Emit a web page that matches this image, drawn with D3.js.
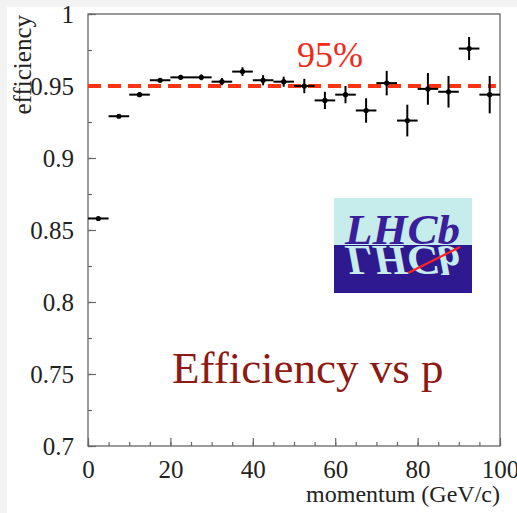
<!DOCTYPE html>
<html>
<head>
<meta charset="utf-8">
<script src="https://cdn.jsdelivr.net/npm/d3@7"></script>
<style>
  body { margin: 0; background: #f3f3f3; }
  svg, svg text { font-family: "Liberation Serif", "DejaVu Serif", serif; }
  svg { display: block; }
</style>
</head>
<body>
<div id="chart"></div>
<script>
// bin centres (GeV/c), each bin 5 GeV wide
var momentum = [2.5, 7.5, 12.5, 17.5, 22.5, 27.5, 32.5, 37.5, 42.5, 47.5,
                52.5, 57.5, 62.5, 67.5, 72.5, 77.5, 82.5, 87.5, 92.5, 97.5];
var efficiency = [0.858, 0.929, 0.944, 0.954, 0.956, 0.956, 0.953, 0.960, 0.954, 0.953,
                  0.950, 0.940, 0.944, 0.933, 0.952, 0.926, 0.948, 0.946, 0.976, 0.944];
var effError = [0.001, 0.001, 0.0015, 0.0015, 0.0015, 0.002, 0.0025, 0.003, 0.0035, 0.0035,
                0.005, 0.006, 0.006, 0.0085, 0.0085, 0.011, 0.011, 0.011, 0.008, 0.013];
var binHalf = 2.5;
var xTicks = [0, 20, 40, 60, 80, 100];
var yTicks = [0.7, 0.75, 0.8, 0.85, 0.9, 0.95, 1];
var reference = 0.95;

var W = 517, H = 513;
var margin = { top: 14, right: 17, bottom: 67, left: 88 };

var svg = d3.select("#chart").append("svg")
    .attr("width", W).attr("height", H);

svg.append("rect").attr("x", 7).attr("y", 7)
    .attr("width", W - 7).attr("height", H - 7).attr("fill", "#fff");

var x = d3.scaleLinear().domain([0, 100]).range([margin.left, W - margin.right]);
var y = d3.scaleLinear().domain([0.7, 1]).range([H - margin.bottom, margin.top]);

// frame
svg.append("rect")
    .attr("x", x(0)).attr("y", y(1))
    .attr("width", x(100) - x(0)).attr("height", y(0.7) - y(1))
    .attr("fill", "none").attr("stroke", "#666").attr("stroke-width", 1.3);

// x axis: minor then major ticks, pointing inwards
var gxMinor = svg.append("g")
    .attr("transform", "translate(0," + y(0.7) + ")")
    .call(d3.axisBottom(x).tickValues(d3.range(0, 101, 5)).tickSize(-4).tickFormat(""));
var gx = svg.append("g")
    .attr("transform", "translate(0," + y(0.7) + ")")
    .call(d3.axisBottom(x).tickValues(xTicks).tickSize(-8).tickPadding(14)
        .tickFormat(d3.format("d")));

var gyMinor = svg.append("g")
    .attr("transform", "translate(" + x(0) + ",0)")
    .call(d3.axisLeft(y).tickValues(d3.range(0.7, 1.001, 0.025)).tickSize(-4).tickFormat(""));
var gy = svg.append("g")
    .attr("transform", "translate(" + x(0) + ",0)")
    .call(d3.axisLeft(y).tickValues(yTicks).tickSize(-8).tickPadding(14)
        .tickFormat(function (d) { return d === 1 ? "1" : d3.format("")(d); }));

[gxMinor, gx, gyMinor, gy].forEach(function (g) {
    g.attr("font-family", "Liberation Serif").attr("font-size", 25);
    g.select(".domain").remove();
    g.selectAll("line").attr("stroke", "#666").attr("stroke-width", 1.2);
    g.selectAll("text").attr("fill", "#222");
});

// axis titles
svg.append("text")
    .attr("x", x(100)).attr("y", 502)
    .attr("text-anchor", "end")
    .style("font-size", "24px").attr("fill", "#222")
    .text("momentum (GeV/c)");

svg.append("text")
    .attr("transform", "translate(31," + 15 + ") rotate(-90)")
    .attr("text-anchor", "end")
    .style("font-size", "25px").attr("fill", "#222")
    .text("efficiency");

// 95% reference line
svg.append("line")
    .attr("x1", x(0)).attr("x2", x(99))
    .attr("y1", y(reference)).attr("y2", y(reference))
    .attr("stroke", "#ff3311").attr("stroke-width", 4)
    .attr("stroke-dasharray", "13,7");

svg.append("text")
    .attr("x", 330).attr("y", 67)
    .attr("text-anchor", "middle")
    .style("font-size", "36px").attr("fill", "#f02a1a")
    .text("95%");

// data points with error bars
var pts = svg.append("g");
momentum.forEach(function (p, i) {
    var e = efficiency[i], err = effError[i];
    pts.append("line")
        .attr("x1", x(p - binHalf)).attr("x2", x(p + binHalf))
        .attr("y1", y(e)).attr("y2", y(e))
        .attr("stroke", "#000").attr("stroke-width", 2);
    pts.append("line")
        .attr("x1", x(p)).attr("x2", x(p))
        .attr("y1", y(e - err)).attr("y2", y(e + err))
        .attr("stroke", "#000").attr("stroke-width", 2);
    pts.append("circle")
        .attr("cx", x(p)).attr("cy", y(e)).attr("r", 2.6)
        .attr("fill", "#000");
});

// LHCb logo
var logo = svg.append("g").attr("transform", "translate(334,198)");
logo.append("rect").attr("width", 138).attr("height", 47).attr("fill", "#c6ecec");
logo.append("rect").attr("y", 47).attr("width", 138).attr("height", 48).attr("fill", "#2f1990");
logo.append("text")
    .attr("x", 11).attr("y", 46)
    .attr("textLength", 115).attr("lengthAdjust", "spacingAndGlyphs")
    .style("font-size", "42px").style("font-style", "italic").style("font-weight", "bold")
    .attr("fill", "#3b1e9c")
    .text("LHCb");
logo.append("text")
    .attr("transform", "translate(0,94) scale(1,-1)")
    .attr("x", 11).attr("y", 46)
    .attr("textLength", 115).attr("lengthAdjust", "spacingAndGlyphs")
    .style("font-size", "42px").style("font-style", "italic").style("font-weight", "bold")
    .attr("fill", "#c6ecec")
    .text("LHCb");
logo.append("line")
    .attr("x1", 74).attr("y1", 75).attr("x2", 126).attr("y2", 49)
    .attr("stroke", "#ff2222").attr("stroke-width", 2.2);

// caption
svg.append("text")
    .attr("x", 172).attr("y", 383)
    .style("font-size", "45px").attr("fill", "#8e1a14")
    .text("Efficiency vs p");
</script>
</body>
</html>
